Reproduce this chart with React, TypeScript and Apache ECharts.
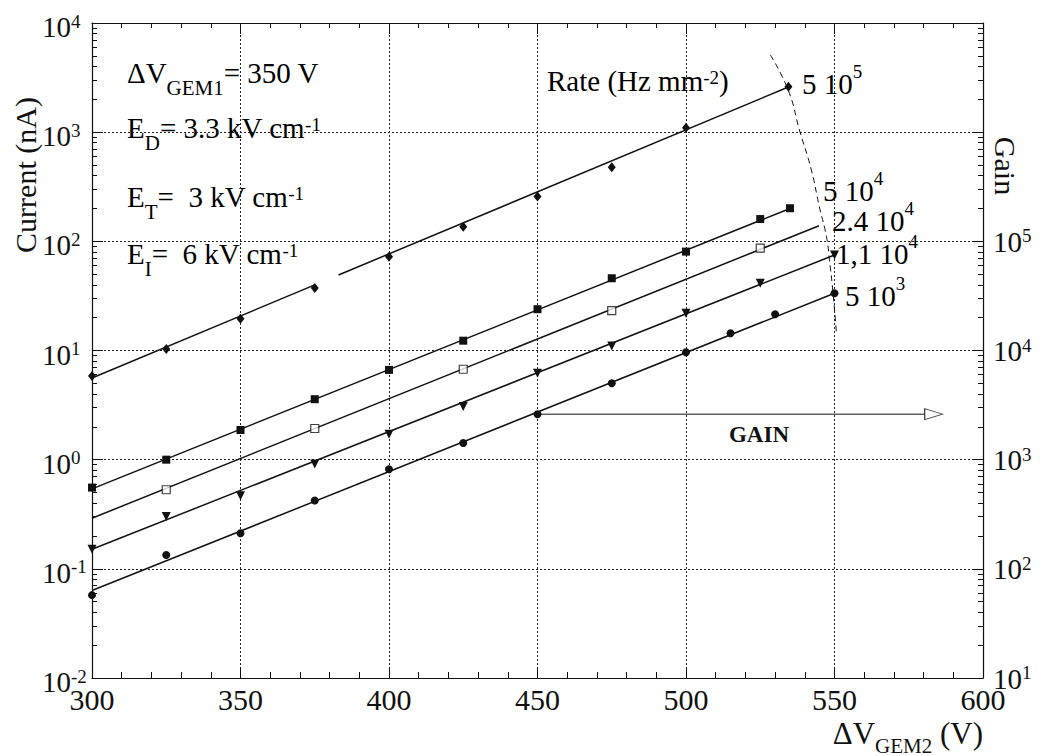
import React, { useEffect, useRef } from 'react';
import * as echarts from 'echarts';

// ---- data (ΔV_GEM2 in V, current in nA) ----
const rate5e5V = [300, 325, 350, 375, 400, 425, 450, 475, 500, 534.5];
const rate5e5I = [5.85, 10.3, 19.5, 37.4, 72.4, 136, 257, 477, 1100, 2610];
const rate5e4V = [300, 325, 350, 375, 400, 425, 450, 475, 500, 525, 535];
const rate5e4I = [0.555, 1.0, 1.87, 3.58, 6.64, 12.3, 23.9, 45.9, 80.5, 160, 201];
const rate24e4V = [325, 375, 425, 475, 525];
const rate24e4I = [0.53, 1.93, 6.73, 23.2, 86.5];
const rate11e4V = [300, 325, 350, 375, 400, 425, 450, 475, 500, 525, 550];
const rate11e4I = [0.151, 0.301, 0.466, 0.915, 1.71, 3.07, 6.19, 11.0, 21.9, 41.3, 75];
const rate5e3V = [300, 325, 350, 375, 400, 425, 450, 475, 500, 515, 530, 550];
const rate5e3I = [0.0574, 0.134, 0.212, 0.422, 0.818, 1.42, 2.61, 5.01, 9.64, 14.4, 21.5, 33.5];

// fitted lines (endpoints)
const fit5e5aV = [300, 375];
const fit5e5aI = [5.6, 39.9];
const fit5e5bV = [383, 534.5];
const fit5e5bI = [49.2, 2594];
const fit5e4V = [300, 535];
const fit5e4I = [0.54, 200];
const fit24e4V = [300, 544.8];
const fit24e4I = [0.291, 139];
const fit11e4V = [300, 550];
const fit11e4I = [0.151, 75];
const fit5e3V = [300, 550];
const fit5e3I = [0.0633, 33.5];

// dashed iso-curve joining the rate labels
const rateCurveV = [528.4, 534.4, 538.2, 542.2, 544.9, 547.3, 548.3, 549.5, 550.7];
const rateCurveI = [5093, 2434, 1047, 451, 207, 110, 67.6, 33.7, 13.9];

// GAIN arrow
const gainArrowV = [450, 580.4];
const gainArrowI = [2.61, 2.61];
const gainHeadV = [583.4];
const gainHeadI = [2.61];

// axis ticks
const currentDecades = [0.01, 0.1, 1, 10, 100, 1000, 10000];
const gainDecades = [10, 100, 1000, 10000, 100000, 1000000, 10000000];
const gainLabelMax = 100000;
const minorMultipliers = [2, 3, 4, 5, 6, 7, 8, 9];

const SERIF = "'Liberation Serif', 'DejaVu Serif', serif";
const INK = '#111';

const zip = (xs: number[], ys: number[]) => xs.map((x, i) => [x, ys[i]]);
const minorValues = (decades: number[]) => {
  const out: number[] = [];
  for (let i = 0; i < decades.length - 1; i++) {
    for (const m of minorMultipliers) out.push(+(decades[i] * m).toPrecision(6));
  }
  return out;
};

// rich text tokens for annotations
const annRich = {
  m: { fontFamily: SERIF, fontSize: 29, height: 29, verticalAlign: 'top', color: INK },
  sub: { fontFamily: SERIF, fontSize: 21, height: 21, verticalAlign: 'top', padding: [19, 0, 0, 0], color: INK },
  sup: { fontFamily: SERIF, fontSize: 19, height: 19, verticalAlign: 'top', padding: [2, 0, 0, 0], color: INK },
};
const serRich = {
  m: { fontFamily: SERIF, fontSize: 29, height: 29, verticalAlign: 'top', padding: [7, 0, 0, 0], color: INK },
  sup: { fontFamily: SERIF, fontSize: 19, height: 19, verticalAlign: 'top', padding: [0, 0, 0, 0], color: INK },
};

const expOf = (v: number) => Math.round(Math.log10(v));

export default function App() {
  const ref = useRef<HTMLDivElement>(null);

  useEffect(() => {
    if (!ref.current) return;
    const chart = echarts.init(ref.current, null, { renderer: 'svg' });

    const lineSeries = (name: string, xs: number[], ys: number[]) => ({
      name,
      type: 'line',
      data: zip(xs, ys),
      showSymbol: false,
      symbol: 'none',
      lineStyle: { color: INK, width: 1.5 },
      silent: true,
      z: 3,
    });
    const markerSeries = (name: string, xs: number[], ys: number[], symbol: string, size: number | number[], extra: any = {}) => ({
      name,
      type: 'scatter',
      data: zip(xs, ys),
      symbol,
      symbolSize: size,
      itemStyle: { color: INK, borderColor: INK, borderWidth: 0, opacity: 1 },
      z: 4,
      ...extra,
    });

    const tickLine = { color: INK, width: 1 };

    const option: any = {
      animation: false,
      backgroundColor: '#ffffff',
      grid: { left: 92, right: 57, top: 23, bottom: 78, containLabel: false },
      xAxis: [
        {
          type: 'value',
          min: 300,
          max: 600,
          interval: 50,
          position: 'bottom',
          axisLine: { show: true, lineStyle: { color: INK, width: 1.2 } },
          axisTick: { show: true, inside: true, length: 11, lineStyle: tickLine },
          minorTick: { show: true, splitNumber: 5, length: 6, lineStyle: tickLine },
          splitLine: { show: true, lineStyle: { color: '#222', width: 1, type: [2, 2] } },
          axisLabel: {
            fontFamily: SERIF,
            fontSize: 30,
            color: INK,
            margin: 6,
          },
          name: '{m|ΔV}{sub|GEM2}{m| (V)}',
          nameLocation: 'end',
          nameGap: 0,
          nameTextStyle: {
            align: 'right',
            verticalAlign: 'top',
            padding: [40, 0, 0, 0],
            rich: {
              m: { fontFamily: SERIF, fontSize: 31, height: 31, verticalAlign: 'top', color: INK },
              sub: { fontFamily: SERIF, fontSize: 21, height: 21, verticalAlign: 'top', padding: [17, 0, 0, 0], color: INK },
            },
          },
        },
        {
          type: 'value',
          min: 300,
          max: 600,
          interval: 50,
          position: 'top',
          axisLine: { show: true, lineStyle: { color: INK, width: 1.2 } },
          axisTick: { show: true, inside: true, length: 11, lineStyle: tickLine },
          minorTick: { show: true, splitNumber: 5, length: 5, lineStyle: tickLine },
          splitLine: { show: false },
          axisLabel: { show: false },
        },
      ],
      yAxis: [
        {
          type: 'log',
          logBase: 10,
          min: 0.01,
          max: 10000,
          position: 'left',
          axisLine: { show: true, lineStyle: { color: INK, width: 1.2 } },
          axisTick: { show: true, inside: true, length: 11, lineStyle: tickLine, customValues: currentDecades },
          splitLine: { show: true, lineStyle: { color: '#222', width: 1, type: [2, 2] } },
          axisLabel: {
            customValues: currentDecades,
            align: 'left',
            margin: 50,
            formatter: (v: number) => `{b|10}{s|${expOf(v)}}`,
            rich: {
              b: { fontFamily: SERIF, fontSize: 29, height: 29, verticalAlign: 'top', padding: [8, 0, 0, 0], color: INK },
              s: { fontFamily: SERIF, fontSize: 19, height: 19, verticalAlign: 'top', padding: [7, 0, 0, 0], color: INK },
            },
          },
        },
        {
          type: 'log',
          logBase: 10,
          min: 10,
          max: 10000000,
          position: 'right',
          axisLine: { show: true, lineStyle: { color: INK, width: 1.2 } },
          axisTick: { show: true, inside: true, length: 11, lineStyle: tickLine, customValues: gainDecades },
          splitLine: { show: false },
          axisLabel: {
            customValues: gainDecades.filter((g) => g <= gainLabelMax),
            margin: 10,
            formatter: (v: number) => (v > gainLabelMax ? '' : `{b|10}{s|${expOf(v)}}`),
            rich: {
              b: { fontFamily: SERIF, fontSize: 29, height: 29, verticalAlign: 'top', padding: [1, 0, 0, 0], color: INK },
              s: { fontFamily: SERIF, fontSize: 19, height: 19, verticalAlign: 'top', padding: [0, 0, 0, 0], color: INK },
            },
          },
        },
        {
          type: 'log',
          logBase: 10,
          min: 0.01,
          max: 10000,
          position: 'left',
          axisLine: { show: false },
          axisTick: { show: true, inside: true, length: 5, lineStyle: tickLine, customValues: minorValues(currentDecades) },
          splitLine: { show: false },
          axisLabel: { show: false },
        },
        {
          type: 'log',
          logBase: 10,
          min: 10,
          max: 10000000,
          position: 'right',
          axisLine: { show: false },
          axisTick: { show: true, inside: true, length: 5, lineStyle: tickLine, customValues: minorValues(gainDecades) },
          splitLine: { show: false },
          axisLabel: { show: false },
        },
      ],
      series: [
        lineSeries('fit 5e5 a', fit5e5aV, fit5e5aI),
        lineSeries('fit 5e5 b', fit5e5bV, fit5e5bI),
        lineSeries('fit 5e4', fit5e4V, fit5e4I),
        lineSeries('fit 2.4e4', fit24e4V, fit24e4I),
        lineSeries('fit 1.1e4', fit11e4V, fit11e4I),
        lineSeries('fit 5e3', fit5e3V, fit5e3I),
        {
          name: 'rate curve',
          type: 'line',
          data: zip(rateCurveV, rateCurveI),
          smooth: true,
          showSymbol: false,
          symbol: 'none',
          lineStyle: { color: INK, width: 1, type: [6, 4] },
          z: 2,
        },
        {
          name: 'gain arrow',
          type: 'line',
          data: zip(gainArrowV, gainArrowI),
          showSymbol: false,
          symbol: 'none',
          lineStyle: { color: INK, width: 1 },
          z: 2,
        },
        markerSeries('gain head', gainHeadV, gainHeadI, 'triangle', [11, 18], {
          symbolRotate: -90,
          itemStyle: { color: '#ffffff', borderColor: INK, borderWidth: 1 },
        }),
        markerSeries('5 10^5', rate5e5V, rate5e5I, 'diamond', [8, 10]),
        markerSeries('5 10^4', rate5e4V, rate5e4I, 'rect', 8),
        markerSeries('2.4 10^4', rate24e4V, rate24e4I, 'rect', 8, {
          itemStyle: { color: '#ffffff', borderColor: INK, borderWidth: 1.2 },
        }),
        markerSeries('1,1 10^4', rate11e4V, rate11e4I, 'triangle', [9, 9], { symbolRotate: 180 }),
        markerSeries('5 10^3', rate5e3V, rate5e3I, 'circle', 8),
      ],
      graphic: [
        { type: 'text', x: 127, y: 58, style: { text: '{m|ΔV}{sub|GEM1}{m|= 350 V}', rich: annRich, verticalAlign: 'top', align: 'left' } },
        { type: 'text', x: 127, y: 113, style: { text: '{m|E}{sub|D}{m|= 3.3 kV cm}{sup|-1}', rich: annRich, verticalAlign: 'top', align: 'left' } },
        { type: 'text', x: 127, y: 182, style: { text: '{m|E}{sub|T}{m|=  3 kV cm}{sup|-1}', rich: annRich, verticalAlign: 'top', align: 'left' } },
        { type: 'text', x: 127, y: 239, style: { text: '{m|E}{sub|I}{m|=  6 kV cm}{sup|-1}', rich: annRich, verticalAlign: 'top', align: 'left' } },
        { type: 'text', x: 547, y: 66, style: { text: '{m|Rate (Hz mm}{sup|-2}{m|)}', rich: annRich, verticalAlign: 'top', align: 'left' } },
        { type: 'text', x: 802, y: 62, style: { text: '{m|5 10}{sup|5}', rich: serRich, verticalAlign: 'top', align: 'left' } },
        { type: 'text', x: 823, y: 169, style: { text: '{m|5 10}{sup|4}', rich: serRich, verticalAlign: 'top', align: 'left' } },
        { type: 'text', x: 832, y: 199, style: { text: '{m|2.4 10}{sup|4}', rich: serRich, verticalAlign: 'top', align: 'left' } },
        { type: 'text', x: 836, y: 232, style: { text: '{m|1,1 10}{sup|4}', rich: serRich, verticalAlign: 'top', align: 'left' } },
        { type: 'text', x: 845, y: 274, style: { text: '{m|5 10}{sup|3}', rich: serRich, verticalAlign: 'top', align: 'left' } },
        {
          type: 'text',
          x: 759,
          y: 434,
          style: { text: 'GAIN', fontFamily: SERIF, fontSize: 23, fontWeight: 'bold', fill: INK, align: 'center', verticalAlign: 'middle' },
        },
        {
          type: 'text',
          x: 25,
          y: 175,
          rotation: Math.PI / 2,
          style: { text: 'Current (nA)', fontFamily: SERIF, fontSize: 30, fill: INK, align: 'center', verticalAlign: 'middle' },
        },
        {
          type: 'text',
          x: 1005,
          y: 166,
          rotation: -Math.PI / 2,
          style: { text: 'Gain', fontFamily: SERIF, fontSize: 30, fill: INK, align: 'center', verticalAlign: 'middle' },
        },
      ],
    };

    chart.setOption(option);
    return () => chart.dispose();
  }, []);

  return (
    <div
      ref={ref}
      style={{ position: 'absolute', left: 0, top: 0, width: 1040, height: 756, background: '#fff' }}
    />
  );
}
